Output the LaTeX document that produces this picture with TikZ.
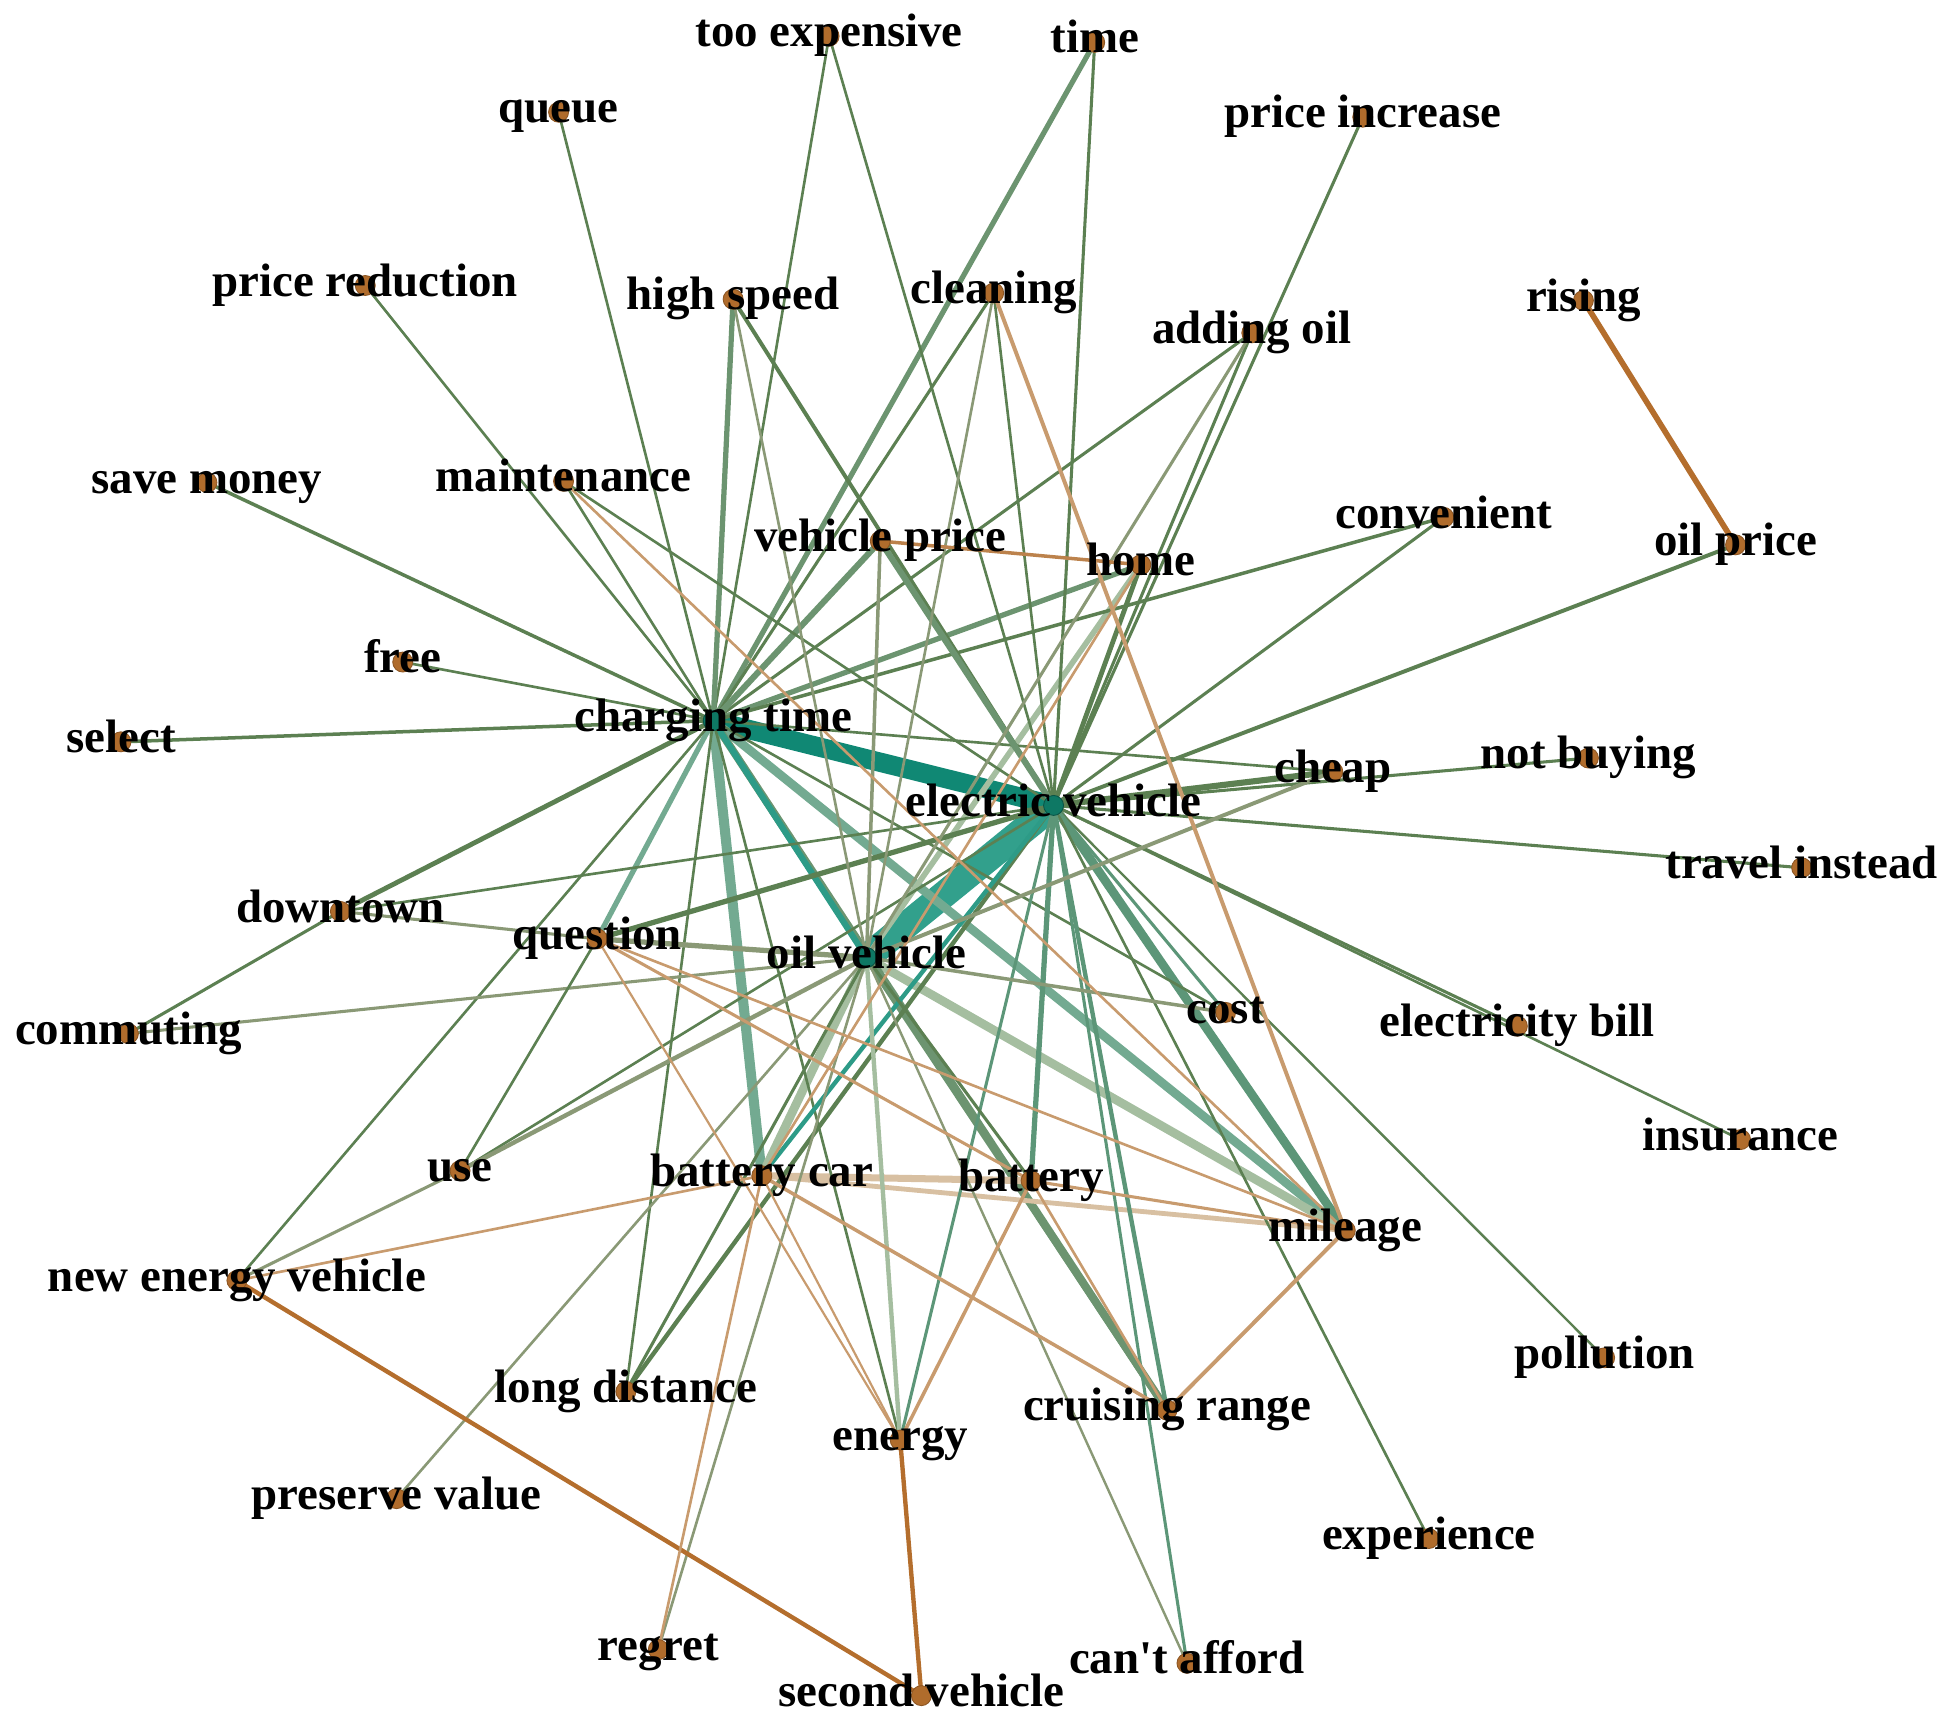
\documentclass[tikz,border=0pt]{standalone}
\usepackage{fontspec}
\newfontfamily\labfont{Liberation Serif}
\pgfdeclarelayer{bg}
\pgfsetlayers{bg,main}
\definecolor{cg}{RGB}{92,128,82}
\definecolor{cgm}{RGB}{108,148,112}
\definecolor{ctg}{RGB}{92,150,120}
\definecolor{cy}{RGB}{138,153,118}
\definecolor{cpale}{RGB}{165,190,160}
\definecolor{cmint}{RGB}{115,170,145}
\definecolor{cteala}{RGB}{16,136,116}
\definecolor{ctealb}{RGB}{50,160,140}
\definecolor{ctealm}{RGB}{45,155,135}
\definecolor{ctan}{RGB}{200,155,110}
\definecolor{cptan}{RGB}{216,192,162}
\definecolor{cbrown}{RGB}{180,110,45}
\definecolor{cnode}{RGB}{176,108,44}
\definecolor{chub}{RGB}{14,120,100}
\newcommand\Edg[3]{\draw[#1] (#2.center) -- (#3.center);}
\newcommand\Lab[2]{\node[lab] at ([yshift=-0.085cm]#1.center) {#2};}
\begin{document}
\begin{tikzpicture}[x=0.01cm,y=-0.01cm,
  dot/.style={circle,fill=cnode,draw=cnode!80!black,line width=0.2pt,minimum size=0.16cm,inner sep=0pt},
  hub/.style={dot,fill=chub,draw=chub!70!black},
  lab/.style={anchor=base,inner sep=0pt,font=\labfont\bfseries\fontsize{10.7}{12}\selectfont},
  eG/.style={draw=cg,line width=#1pt},
  eGm/.style={draw=cgm,line width=#1pt},
  eTG/.style={draw=ctg,line width=#1pt},
  eY/.style={draw=cy,line width=#1pt},
  eP/.style={draw=cpale,line width=#1pt},
  eM/.style={draw=cmint,line width=#1pt},
  eT/.style={draw=ctan,line width=#1pt},
  ePT/.style={draw=cptan,line width=#1pt},
  eB/.style={draw=cbrown,line width=#1pt}]
\useasboundingbox (0,0) rectangle (1568,1383);
% nodes
\node[dot] (tooexp) at (665,29) {};
\node[dot] (time) at (878,34) {};
\node[dot] (queue) at (448,90) {};
\node[dot] (priceinc) at (1093,94) {};
\node[dot] (pricered) at (293,229) {};
\node[dot] (highspeed) at (588,240) {};
\node[dot] (cleaning) at (797,235) {};
\node[dot] (addingoil) at (1004,267) {};
\node[dot] (rising) at (1270,241) {};
\node[dot] (savemoney) at (166,387) {};
\node[dot] (maint) at (452,386) {};
\node[dot] (vehprice) at (706,434) {};
\node[dot] (home) at (915,453) {};
\node[dot] (conv) at (1158,415) {};
\node[dot] (oilprice) at (1392,437) {};
\node[dot] (free) at (323,531) {};
\node[dot] (select) at (97,595) {};
\node[hub] (CT) at (572,578) {};
\node[dot] (cheap) at (1069,619) {};
\node[dot] (notbuy) at (1274,608) {};
\node[hub] (EV) at (845,646) {};
\node[dot] (travel) at (1445,696) {};
\node[dot] (downtown) at (273,731) {};
\node[dot] (question) at (479,753) {};
\node[hub] (OV) at (695,768) {};
\node[dot] (commuting) at (103,829) {};
\node[dot] (cost) at (983,812) {};
\node[dot] (elecbill) at (1217,823) {};
\node[dot] (insurance) at (1396,914) {};
\node[dot] (use) at (369,939) {};
\node[dot] (bcar) at (611,943) {};
\node[dot] (battery) at (827,947) {};
\node[dot] (mileage) at (1079,987) {};
\node[dot] (NEV) at (190,1027) {};
\node[dot] (pollution) at (1287,1089) {};
\node[dot] (longdist) at (502,1116) {};
\node[dot] (energy) at (722,1155) {};
\node[dot] (cruising) at (936,1131) {};
\node[dot] (preserve) at (318,1202) {};
\node[dot] (experience) at (1146,1234) {};
\node[dot] (regret) at (528,1323) {};
\node[dot] (cant) at (952,1334) {};
\node[dot] (second) at (739,1360) {};
% edges
\begin{pgfonlayer}{bg}
\Edg{draw=ctealb,line width=6.2pt}{EV}{OV}
\Edg{draw=cteala,line width=4.4pt}{CT}{EV}
\Edg{eM=2.3}{CT}{bcar}
\Edg{eM=2}{CT}{mileage}
\Edg{eTG=2}{EV}{mileage}
\Edg{eP=2}{OV}{mileage}
\Edg{eP=2}{OV}{bcar}
\Edg{eGm=1.8}{CT}{cruising}
\Edg{eGm=1.6}{OV}{cruising}
\Edg{draw=ctealm,line width=1.4pt}{CT}{OV}
\Edg{ePT=1.6}{bcar}{battery}
\Edg{ePT=1.1}{bcar}{mileage}
\Edg{eP=1.3}{home}{OV}
% charging time
\Edg{eG=0.6}{CT}{tooexp}
\Edg{eGm=1.2}{CT}{time}
\Edg{eG=0.6}{CT}{queue}
\Edg{eG=0.6}{CT}{pricered}
\Edg{eGm=1.2}{CT}{highspeed}
\Edg{eG=0.7}{CT}{cleaning}
\Edg{eG=0.7}{CT}{addingoil}
\Edg{eG=0.8}{CT}{savemoney}
\Edg{eG=0.6}{CT}{maint}
\Edg{eGm=1.4}{CT}{vehprice}
\Edg{eGm=1.2}{CT}{home}
\Edg{eG=0.8}{CT}{conv}
\Edg{eG=0.6}{CT}{free}
\Edg{eG=0.8}{CT}{select}
\Edg{eG=1.1}{CT}{downtown}
\Edg{eM=1.2}{CT}{question}
\Edg{eG=0.6}{CT}{NEV}
\Edg{eG=0.6}{CT}{longdist}
\Edg{eG=0.6}{CT}{energy}
\Edg{eG=0.6}{CT}{cost}
\Edg{eG=0.6}{CT}{cheap}
% electric vehicle
\Edg{eG=0.6}{EV}{tooexp}
\Edg{eG=0.7}{EV}{time}
\Edg{eG=0.7}{EV}{priceinc}
\Edg{eG=0.7}{EV}{addingoil}
\Edg{eG=0.6}{EV}{cleaning}
\Edg{eG=0.9}{EV}{highspeed}
\Edg{eG=0.6}{EV}{maint}
\Edg{eGm=1.4}{EV}{vehprice}
\Edg{eG=1.1}{EV}{home}
\Edg{eG=0.7}{EV}{conv}
\Edg{eG=0.9}{EV}{oilprice}
\Edg{eG=1.4}{EV}{cheap}
\Edg{eG=0.7}{EV}{notbuy}
\Edg{eG=0.7}{EV}{travel}
\Edg{eG=0.7}{EV}{elecbill}
\Edg{eG=0.6}{EV}{insurance}
\Edg{eG=0.55}{EV}{pollution}
\Edg{eG=0.6}{EV}{experience}
\Edg{eTG=0.7}{EV}{cant}
\Edg{eTG=0.7}{EV}{cost}
\Edg{eTG=1}{EV}{cruising}
\Edg{eTG=1.2}{EV}{battery}
\Edg{eTG=0.7}{EV}{energy}
\Edg{eG=1}{EV}{longdist}
\Edg{draw=ctealm,line width=1pt}{EV}{bcar}
\Edg{eG=0.6}{EV}{use}
\Edg{eG=1.2}{EV}{question}
\Edg{eG=0.6}{EV}{downtown}
% oil vehicle
\Edg{eY=0.6}{OV}{highspeed}
\Edg{eY=0.6}{OV}{cleaning}
\Edg{eY=0.7}{OV}{addingoil}
\Edg{eY=0.8}{OV}{vehprice}
\Edg{eY=1.2}{OV}{question}
\Edg{eY=0.7}{OV}{commuting}
\Edg{eY=1}{OV}{use}
\Edg{eY=0.6}{OV}{preserve}
\Edg{eY=0.6}{OV}{regret}
\Edg{eG=0.7}{OV}{longdist}
\Edg{eP=1}{OV}{energy}
\Edg{eY=0.55}{OV}{cant}
\Edg{eY=0.8}{OV}{cost}
\Edg{eY=0.9}{OV}{cheap}
\Edg{eG=0.7}{OV}{battery}
% others
\Edg{eY=0.7}{downtown}{question}
\Edg{eG=0.7}{downtown}{commuting}
\Edg{eY=0.7}{NEV}{use}
\Edg{eG=0.6}{question}{use}
\Edg{eT=0.6}{NEV}{bcar}
\Edg{eB=1}{NEV}{second}
\Edg{eB=1}{energy}{second}
\Edg{eB=1.3}{rising}{oilprice}
\Edg{draw=cnode!85!white,line width=0.8pt}{vehprice}{home}
\Edg{eT=0.9}{cleaning}{mileage}
\Edg{eT=0.6}{maint}{mileage}
\Edg{eT=0.7}{question}{battery}
\Edg{eT=0.6}{question}{mileage}
\Edg{eT=0.5}{question}{energy}
\Edg{eT=0.7}{battery}{mileage}
\Edg{eT=0.6}{bcar}{regret}
\Edg{eT=0.5}{bcar}{energy}
\Edg{eT=0.8}{bcar}{cruising}
\Edg{eT=0.8}{battery}{energy}
\Edg{eT=0.6}{battery}{cruising}
\Edg{eT=0.9}{mileage}{cruising}
\Edg{eT=0.6}{home}{bcar}
\end{pgfonlayer}
% labels
\Lab{tooexp}{too expensive}
\Lab{time}{time}
\Lab{queue}{queue}
\Lab{priceinc}{price increase}
\Lab{pricered}{price reduction}
\Lab{highspeed}{high speed}
\Lab{cleaning}{cleaning}
\Lab{addingoil}{adding oil}
\Lab{rising}{rising}
\Lab{savemoney}{save money}
\Lab{maint}{maintenance}
\Lab{vehprice}{vehicle price}
\Lab{home}{home}
\Lab{conv}{convenient}
\Lab{oilprice}{oil price}
\Lab{free}{free}
\Lab{select}{select}
\Lab{CT}{charging time}
\Lab{cheap}{cheap}
\Lab{notbuy}{not buying}
\Lab{EV}{electric vehicle}
\Lab{travel}{travel instead}
\Lab{downtown}{downtown}
\Lab{question}{question}
\Lab{OV}{oil vehicle}
\Lab{commuting}{commuting}
\Lab{cost}{cost}
\Lab{elecbill}{electricity bill}
\Lab{insurance}{insurance}
\Lab{use}{use}
\Lab{bcar}{battery car}
\Lab{battery}{battery}
\Lab{mileage}{mileage}
\Lab{NEV}{new energy vehicle}
\Lab{pollution}{pollution}
\Lab{longdist}{long distance}
\Lab{energy}{energy}
\Lab{cruising}{cruising range}
\Lab{preserve}{preserve value}
\Lab{experience}{experience}
\Lab{regret}{regret}
\Lab{cant}{can\symbol{"0027}t afford}
\Lab{second}{second vehicle}
\end{tikzpicture}
\end{document}
